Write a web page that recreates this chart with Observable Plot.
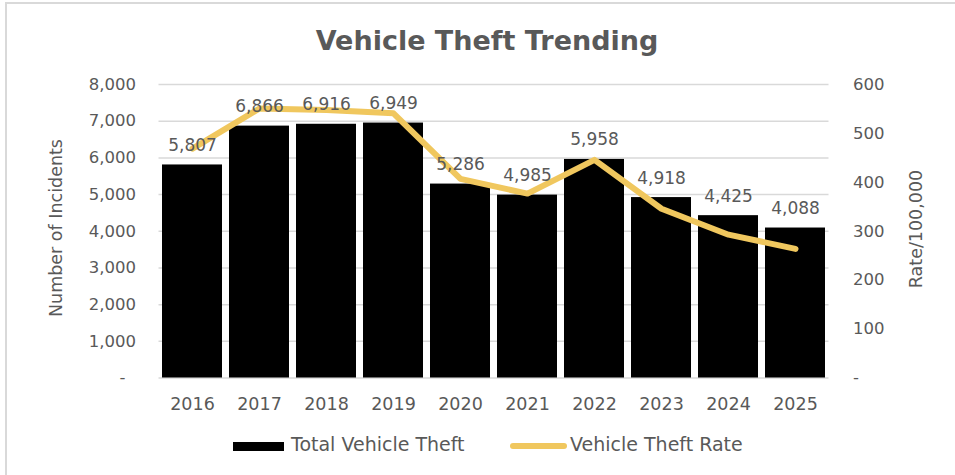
<!DOCTYPE html>
<html>
<head>
<meta charset="utf-8">
<script src="https://cdn.jsdelivr.net/npm/d3@7"></script>
<script src="https://cdn.jsdelivr.net/npm/@observablehq/plot@0.6"></script>
<style>
  html, body { margin: 0; padding: 0; background: #fff; }
  #wrap { position: relative; width: 955px; height: 475px; overflow: hidden; font-family: "DejaVu Sans", sans-serif; color: #595959; }
  #wrap svg { position: absolute; left: 0; top: 0; }
  .abs { position: absolute; white-space: nowrap; line-height: 1; }
  #frame { position: absolute; left: 5px; top: 2px; width: 960px; height: 480px; border-left: 2px solid #d9d9d9; border-top: 2px solid #d9d9d9; }
</style>
</head>
<body>
<div id="wrap">
  <div id="frame"></div>
</div>
<script>
const years = ["2016","2017","2018","2019","2020","2021","2022","2023","2024","2025"];
const totals = [5807, 6866, 6916, 6949, 5286, 4985, 5958, 4918, 4425, 4088];
const rates = [469, 551, 548, 541, 407, 377, 446, 346, 293, 264];
const countTicks = [0, 1000, 2000, 3000, 4000, 5000, 6000, 7000, 8000];
const rateTicks = [0, 100, 200, 300, 400, 500, 600];
const titleText = "Vehicle Theft Trending";
const leftTitle = "Number of Incidents";
const rightTitle = "Rate/100,000";
const seriesNames = ["Total Vehicle Theft", "Vehicle Theft Rate"];

const barColor = "#000000";
const lineColor = "#f0c75e";
const textColor = "#595959";
const k = 8000 / 600;
const fmt = d3.format(",");
const rows = years.map((year, i) => ({year, total: totals[i], rate: rates[i]}));

const chart = Plot.plot({
  width: 955,
  height: 475,
  marginTop: 84,
  marginBottom: 97.5,
  marginLeft: 158.5,
  marginRight: 126.5,
  style: {fontFamily: "DejaVu Sans", color: textColor, background: "transparent"},
  x: {type: "band", domain: years, paddingInner: 0.1, paddingOuter: 0.05},
  y: {domain: [0, 8000]},
  marks: [
    Plot.gridY(countTicks, {stroke: "#d9d9d9", strokeOpacity: 1, strokeWidth: 1.5}),
    Plot.barY(rows, {x: "year", y: "total", fill: barColor}),
    Plot.line(rows, {x: "year", y: d => d.rate * k, stroke: lineColor, strokeWidth: 6, strokeLinecap: "round", strokeLinejoin: "round"}),
    Plot.text(rows, {x: "year", y: "total", text: d => fmt(d.total), dy: -14, lineAnchor: "bottom", fontSize: 17, fill: textColor}),
    Plot.axisY(countTicks, {anchor: "left", tickSize: 0, tickPadding: 23, fontSize: 16.5, label: null,
      tickFormat: d => d === 0 ? "-\u00a0\u00a0" : fmt(d)}),
    Plot.axisY(rateTicks.map(r => r * k), {anchor: "right", tickSize: 0, tickPadding: 24, fontSize: 16.5, label: null,
      tickFormat: d => d === 0 ? "-" : fmt(Math.round(d / k))}),
    Plot.axisX({tickSize: 0, tickPadding: 20, fontSize: 17.5, label: null})
  ]
});

const wrap = document.getElementById("wrap");
wrap.appendChild(chart);

function addText(txt, css) {
  const el = document.createElement("div");
  el.className = "abs";
  el.textContent = txt;
  Object.assign(el.style, css);
  wrap.appendChild(el);
  return el;
}
function addBox(css) {
  const el = document.createElement("div");
  el.style.position = "absolute";
  Object.assign(el.style, css);
  wrap.appendChild(el);
  return el;
}

addText(titleText, {left: "487px", top: "27px", transform: "translateX(-50%)", fontSize: "27px", fontWeight: "bold"});
addText(leftTitle, {left: "57px", top: "228px", transform: "translate(-50%,-50%) rotate(-90deg)", fontSize: "17.5px"});
addText(rightTitle, {left: "917px", top: "229px", transform: "translate(-50%,-50%) rotate(-90deg)", fontSize: "17.5px"});

addBox({left: "233px", top: "442px", width: "51px", height: "9px", background: barColor});
addText(seriesNames[0], {left: "291px", top: "435px", fontSize: "19px"});
addBox({left: "510px", top: "443px", width: "57px", height: "6px", borderRadius: "3px", background: lineColor});
addText(seriesNames[1], {left: "570px", top: "435px", fontSize: "19px"});
</script>
</body>
</html>
